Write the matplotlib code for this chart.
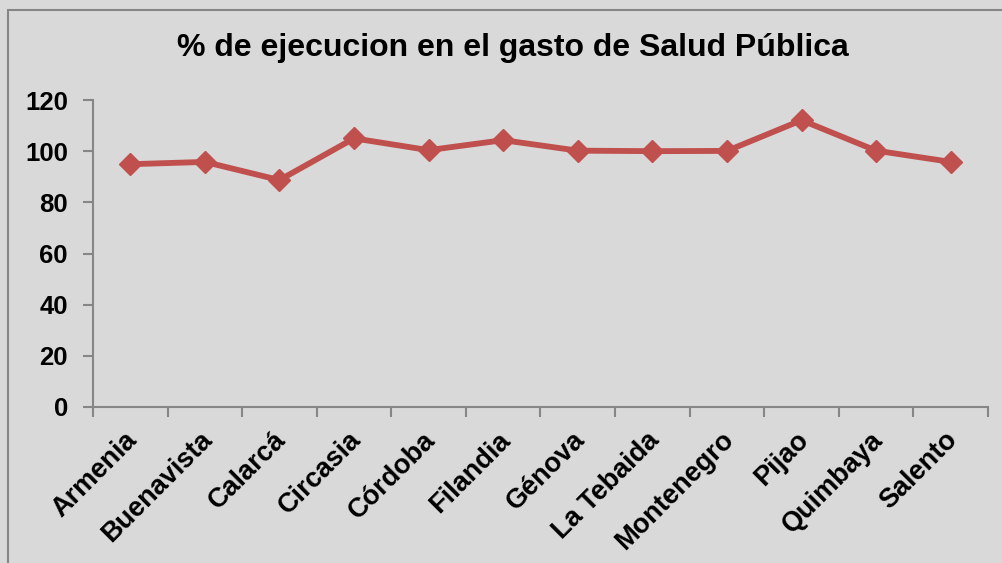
import matplotlib
matplotlib.use("Agg")
import matplotlib.pyplot as plt
import matplotlib.transforms as mtransforms
from matplotlib.patches import Rectangle
import numpy as np

categories = ["Armenia", "Buenavista", "Calarcá", "Circasia", "Córdoba", "Filandia",
              "Génova", "La Tebaida", "Montenegro", "Pijao", "Quimbaya", "Salento"]
values = [94.9, 95.8, 88.7, 105.0, 100.4, 104.3, 100.2, 100.0, 100.1, 112.1, 100.2, 95.8]
yticks = [0, 20, 40, 60, 80, 100, 120]
title = "% de ejecucion en el gasto de Salud Pública"

bg = "#d9d9d9"
gray = "#868686"
red = "#c0504d"

plt.rcParams['font.family'] = ['Liberation Sans', 'DejaVu Sans']

W, H = 1003, 563
fig = plt.figure(figsize=(W / 100, H / 100), dpi=100)
fig.patch.set_facecolor(bg)

# outer chart border
fig.patches.append(Rectangle((8 / W, -0.1), 1.2, 1 - 10 / H + 0.1, transform=fig.transFigure,
                             fill=False, edgecolor=gray, linewidth=1.5))

ax = fig.add_axes([93 / W, 1 - 407 / H, (988 - 93) / W, (407 - 100) / H])
ax.set_facecolor(bg)

x = np.arange(len(categories))
ax.plot(x, values, color=red, linewidth=4.2, marker='D', markersize=11, zorder=3)

ax.set_xlim(-0.5, len(categories) - 0.5)
ax.set_ylim(0, 120)
ax.set_yticks(yticks)
ax.set_yticklabels([str(v) for v in yticks], fontsize=18.5, fontweight='bold')

# boundary ticks (major) and label positions (minor)
ax.set_xticks(np.arange(-0.5, len(categories), 1.0))
ax.set_xticklabels([])
ax.set_xticks(x, minor=True)
ax.set_xticklabels(categories, minor=True, rotation=45, ha='right', va='center',
                   rotation_mode='anchor', fontsize=19.5, fontweight='bold')
ax.tick_params(axis='x', which='minor', length=0, pad=21)
ax.tick_params(axis='x', which='major', length=7, width=1.5, color=gray, direction='out')
ax.tick_params(axis='y', length=7, width=1.5, color=gray, direction='out', pad=11)

offset = mtransforms.ScaledTranslation(3 / 100, 0, fig.dpi_scale_trans)
for lab in ax.get_xticklabels(minor=True):
    lab.set_transform(lab.get_transform() + offset)

for s in ['top', 'right']:
    ax.spines[s].set_visible(False)
for s in ['left', 'bottom']:
    ax.spines[s].set_color(gray)
    ax.spines[s].set_linewidth(1.5)

fig.text(513 / W, 1 - 48 / H, title, ha='center', va='center', fontsize=23, fontweight='bold')

fig.savefig("out.png", dpi=100, facecolor=bg)
